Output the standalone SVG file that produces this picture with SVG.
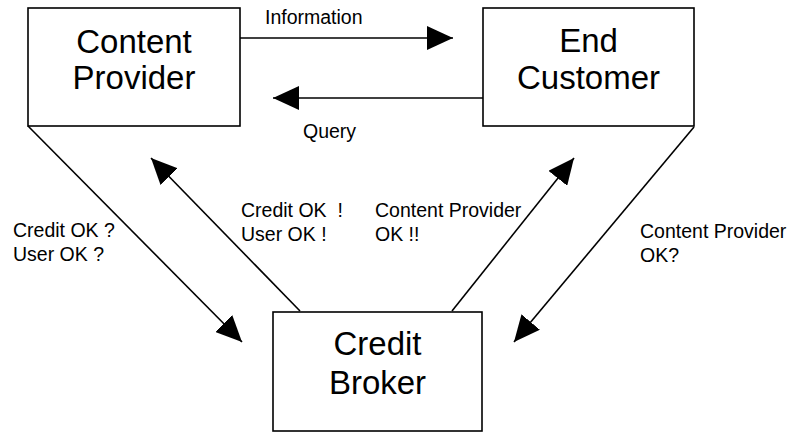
<svg xmlns="http://www.w3.org/2000/svg" width="794" height="432" viewBox="0 0 794 432">
<style>
.box{fill:#fff;stroke:#000;stroke-width:1.6}
.big{font-family:"Liberation Sans",Arial,sans-serif;font-size:33px;text-anchor:middle;fill:#000}
.lbl{font-family:"Liberation Sans",Arial,sans-serif;font-size:19.5px;fill:#000;white-space:pre}
.con{stroke:#000;stroke-width:1.6;fill:none;marker-end:url(#ah)}
</style>
<defs>
<marker id="ah" markerUnits="userSpaceOnUse" markerWidth="26" markerHeight="24" refX="26" refY="12" orient="auto">
<path d="M0,0 L26,12 L0,24 z" fill="#000"/>
</marker>
</defs>
<rect width="794" height="432" fill="#fff"/>
<g id="content-provider">
<rect class="box" x="28" y="8" width="212" height="118"/>
<text class="big" x="134" y="53">Content</text>
<text class="big" x="134" y="89">Provider</text>
</g>
<g id="end-customer">
<rect class="box" x="483" y="8" width="211" height="118"/>
<text class="big" x="588.5" y="52">End</text>
<text class="big" x="588.5" y="89">Customer</text>
</g>
<g id="credit-broker">
<rect class="box" x="273" y="312" width="209" height="119"/>
<text class="big" x="377.5" y="355">Credit</text>
<text class="big" x="377.5" y="394">Broker</text>
</g>
<g id="connectors">
<line class="con" x1="240" y1="38" x2="453" y2="38"/>
<line class="con" x1="483" y1="98" x2="273" y2="98"/>
<line class="con" x1="28" y1="126" x2="242" y2="342"/>
<line class="con" x1="300" y1="311" x2="151" y2="158"/>
<line class="con" x1="452" y1="311" x2="574" y2="158"/>
<line class="con" x1="694" y1="127" x2="514" y2="342"/>
</g>
<g id="labels">
<text class="lbl" x="265" y="24">Information</text>
<text class="lbl" x="303" y="138">Query</text>
<text class="lbl" x="13" y="237">Credit OK ?</text>
<text class="lbl" x="13" y="261">User OK ?</text>
<text class="lbl" x="241" y="217">Credit OK  !</text>
<text class="lbl" x="241" y="241">User OK !</text>
<text class="lbl" x="375" y="217">Content Provider</text>
<text class="lbl" x="375" y="241">OK !!</text>
<text class="lbl" x="640" y="238">Content Provider</text>
<text class="lbl" x="640" y="262">OK?</text>
</g>
</svg>
